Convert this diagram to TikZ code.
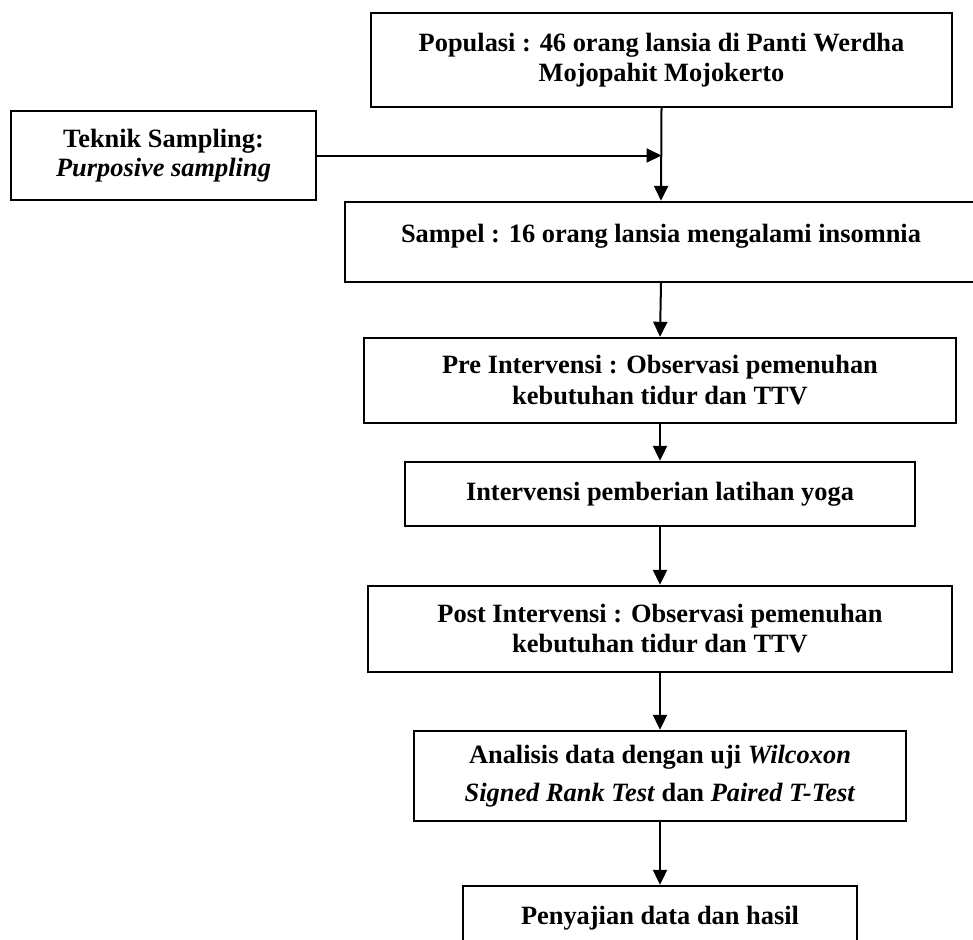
\documentclass[tikz,border=0pt]{standalone}
\usepackage{fontspec}
\setmainfont{Liberation Serif}
\usepackage{tikz}
\usetikzlibrary{positioning, arrows.meta}

\begin{document}
\begin{tikzpicture}[x=0.5pt, y=-0.5pt,
  box/.style={draw, line width=1.2pt, align=center, inner sep=2pt,
    font=\bfseries\fontsize{13.2}{15}\selectfont},
  arr/.style={-{Triangle[length=7.5pt,width=7pt]}, line width=1pt}]
\useasboundingbox (0,0) rectangle (973,939);
\clip (0,0) rectangle (973,939);
% boxes
\node[box, minimum width=290.5pt, minimum height=47pt] (pop) at (661.5,60) {Populasi : 46 orang lansia di Panti Werdha\\Mojopahit Mojokerto};
\node[box, minimum width=152.5pt, minimum height=44.5pt, font=\bfseries\fontsize{13.2}{14.5}\selectfont] (teknik) at (163.5,155.5) {Teknik Sampling:\\\textit{Purposive sampling}};
\node[box, minimum width=316pt, minimum height=40pt, text depth=9pt] (sampel) at (661,242) {Sampel : 16 orang lansia mengalami insomnia};
\node[box, minimum width=296pt, minimum height=42.5pt, font=\bfseries\fontsize{13.2}{15.5}\selectfont] (pre) at (660,380.5) {Pre Intervensi : Observasi pemenuhan\\kebutuhan tidur dan TTV};
\node[box, minimum width=255pt, minimum height=32pt] (interv) at (660,494) {Intervensi pemberian latihan yoga};
\node[box, minimum width=292pt, minimum height=43pt] (post) at (660,629) {Post Intervensi : Observasi pemenuhan\\kebutuhan tidur dan TTV};
\node[box, minimum width=246pt, minimum height=45pt] (analisis) at (660,776) {Analisis data dengan uji \textit{Wilcoxon}\\[4pt]\textit{Signed Rank Test} dan \textit{Paired T-Test}};
\node[box, minimum width=197pt, minimum height=32pt] (sajian) at (660,918) {Penyajian data dan hasil};
% arrows
\coordinate (join) at (pop.south |- teknik.east);
\draw[arr] (teknik.east) -- (join);
\draw[arr] (pop.south) -- (sampel.north);
\draw[arr] (sampel.south) -- (pre.north);
\draw[arr] (pre.south) -- (interv.north);
\draw[arr] (interv.south) -- (post.north);
\draw[arr] (post.south) -- (analisis.north);
\draw[arr] (analisis.south) -- (sajian.north);
\end{tikzpicture}
\end{document}
